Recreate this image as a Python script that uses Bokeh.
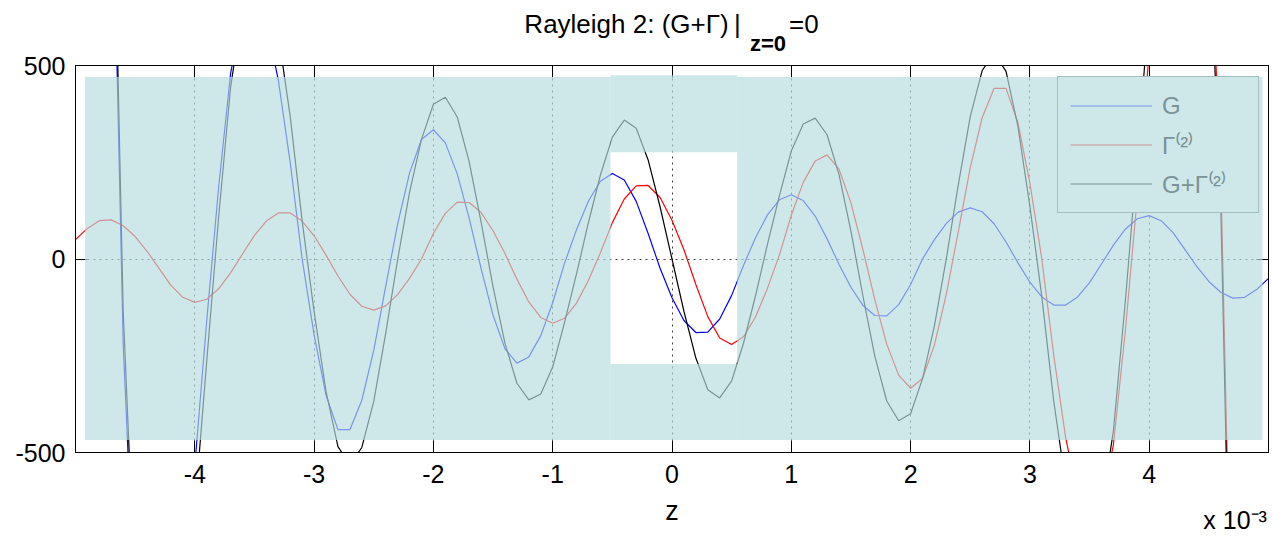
from bokeh.plotting import figure
from bokeh.models import (Range1d, FixedTicker, LinearAxis, BoxAnnotation,
                          Legend, LegendItem, ColumnDataSource)
from bokeh.core.properties import value
from bokeh.embed import file_html
from bokeh.resources import INLINE

# ---------------- data ----------------
z = [-5.0, -4.9, -4.8, -4.7, -4.6, -4.5, -4.4, -4.3, -4.2, -4.1,
     -4.0, -3.9, -3.8, -3.7, -3.6, -3.5, -3.4, -3.3, -3.2, -3.1,
     -3.0, -2.9, -2.8, -2.7, -2.6, -2.5, -2.4, -2.3, -2.2, -2.1,
     -2.0, -1.9, -1.8, -1.7, -1.6, -1.5, -1.4, -1.3, -1.2, -1.1,
     -1.0, -0.9, -0.8, -0.7, -0.6, -0.5, -0.4, -0.3, -0.2, -0.1,
     0.0,
     0.1, 0.2, 0.3, 0.4, 0.5, 0.6, 0.7, 0.8, 0.9, 1.0,
     1.1, 1.2, 1.3, 1.4, 1.5, 1.6, 1.7, 1.8, 1.9, 2.0,
     2.1, 2.2, 2.3, 2.4, 2.5, 2.6, 2.7, 2.8, 2.9, 3.0,
     3.1, 3.2, 3.3, 3.4, 3.5, 3.6, 3.7, 3.8, 3.9, 4.0,
     4.1, 4.2, 4.3, 4.4, 4.5, 4.6, 4.7, 4.8, 4.9, 5.0]

G = [2400, 2300, 1900, 1167, -222, -917, -1040, -1060, -990, -823,
     -534, -160, 186, 480, 634, 678, 612, 462, 249, 0,
     -196, -352, -441, -441, -365, -236, -71, 90, 222, 309,
     334, 300, 220, 105, -25, -145, -232, -269, -253, -198,
     -113, -10, 76, 150, 201, 221, 204, 149, 66, -24,
     -100,
     -159, -190, -189, -155, -94, -16, 55, 114, 153, 166,
     151, 111, 52, -14, -73, -120, -146, -147, -118, -66,
     0, 50, 92, 121, 132, 122, 91, 44, -10, -60,
     -98, -119, -119, -98, -61, -13, 36, 77, 104, 112,
     99, 68, 24, -20, -58, -86, -101, -99, -79, -50]

Gamma2 = [50, 79, 99, 101, 86, 58, 20, -24, -68, -99,
          -112, -104, -77, -36, 13, 61, 98, 119, 119, 98,
          60, 10, -44, -91, -122, -132, -121, -92, -50, 0,
          66, 118, 147, 146, 120, 73, 14, -52, -111, -151,
          -166, -153, -114, -55, 16, 94, 155, 189, 190, 159,
          100,
          24, -66, -149, -204, -221, -201, -150, -76, 10, 113,
          198, 253, 269, 232, 145, 25, -105, -220, -300, -334,
          -309, -222, -90, 71, 236, 365, 441, 441, 352, 196,
          0, -249, -462, -612, -678, -634, -480, -186, 160, 534,
          823, 990, 1060, 1040, 917, 222, -1167, -1900, -2300, -2400]

G_plus_Gamma2 = [2450, 2379, 1999, 1268, -136, -859, -1020, -1084, -1058, -922,
                 -646, -264, 109, 444, 647, 739, 710, 581, 368, 98,
                 -136, -342, -485, -532, -487, -368, -192, -2, 172, 309,
                 400, 418, 367, 251, 95, -72, -218, -321, -364, -349,
                 -279, -163, -38, 95, 217, 315, 359, 338, 256, 135,
                 0,
                 -135, -256, -338, -359, -315, -217, -95, 38, 163, 279,
                 349, 364, 321, 218, 72, -95, -251, -367, -418, -400,
                 -309, -172, 2, 192, 368, 487, 532, 485, 342, 136,
                 -98, -368, -581, -710, -739, -647, -444, -109, 264, 646,
                 922, 1058, 1084, 1020, 859, 136, -1268, -1999, -2379, -2450]

x_ticks = [-4, -3, -2, -1, 0, 1, 2, 3, 4]
x_tick_labels = ["-4", "-3", "-2", "-1", "0", "1", "2", "3", "4"]
y_ticks = [-500, 0, 500]
y_tick_labels = ["-500", "0", "500"]

series_labels = ["G", "\u0393\u207d\u00b2\u207e", "G+\u0393\u207d\u00b2\u207e"]
title_main = "Rayleigh 2: (G+\u0393)\u2009|"
title_sub = "z=0"
title_tail = "=0"
x_multiplier = "x 10\u207b\u00b3"

# ---------------- figure ----------------
FONT = "Liberation Sans"

src = ColumnDataSource(data=dict(zz=z, gg=G, rr=Gamma2, tt=G_plus_Gamma2))

p = figure(width=1272, height=540, x_range=Range1d(-5, 5), y_range=Range1d(-500, 500),
           output_backend="svg", toolbar_location=None,
           min_border_left=75, min_border_right=4, min_border_top=65, min_border_bottom=88,
           background_fill_color="white", border_fill_color="white")
p.title.visible = False
p.outline_line_color = "black"
p.outline_line_width = 1

xa = p.xaxis[0]
ya = p.yaxis[0]
xa.ticker = FixedTicker(ticks=x_ticks)
ya.ticker = FixedTicker(ticks=y_ticks)
xa.major_label_overrides = {t: s for t, s in zip(x_ticks, x_tick_labels)}
ya.major_label_overrides = {t: s for t, s in zip(y_ticks, y_tick_labels)}
for ax in (xa, ya):
    ax.axis_line_color = "black"
    ax.axis_line_width = 1
    ax.major_tick_line_color = "black"
    ax.major_tick_in = 12
    ax.major_tick_out = 0
    ax.minor_tick_line_color = None
    ax.major_label_text_font = FONT
    ax.major_label_text_font_size = "25px"
    ax.major_label_text_color = "black"
xa.major_label_standoff = 12
ya.major_label_standoff = 10
xa.axis_label = "z"
xa.axis_label_text_font = FONT
xa.axis_label_text_font_size = "27px"
xa.axis_label_text_font_style = "normal"
xa.axis_label_text_color = "black"
xa.axis_label_standoff = 10

# box: tick marks on top and right
for loc, ticks in (("above", x_ticks), ("right", y_ticks)):
    ax = LinearAxis(ticker=FixedTicker(ticks=ticks),
                    major_label_overrides={t: "" for t in ticks},
                    major_label_text_font_size="0px", major_label_text_color=None,
                    major_label_standoff=0, major_tick_in=12, major_tick_out=0,
                    minor_tick_line_color=None, axis_line_color="black",
                    major_tick_line_color="black")
    p.add_layout(ax, loc)


def text_axis(place, ticks, labels, size, style, standoff):
    ax = LinearAxis(ticker=FixedTicker(ticks=ticks),
                    major_label_overrides=dict(zip(ticks, labels)),
                    major_label_text_font=FONT, major_label_text_font_size=size,
                    major_label_text_font_style=style, major_label_text_color="black",
                    major_label_standoff=standoff, major_tick_in=0, major_tick_out=0,
                    major_tick_line_color=None, minor_tick_line_color=None,
                    axis_line_color=None)
    p.add_layout(ax, place)


# title: subscript row (nearer the frame) and main row
text_axis("above", [0.805], [title_sub], "22px", "bold", 10)
text_axis("above", [-0.331, 1.106], [title_main, title_tail], "26px", "normal", -11)
# x 10^-3 multiplier under the x axis, at the right
text_axis("below", [4.72], [x_multiplier], "25px", "normal", -23)

p.xgrid[0].ticker = FixedTicker(ticks=x_ticks)
p.ygrid[0].ticker = FixedTicker(ticks=y_ticks)
for g in (p.xgrid[0], p.ygrid[0]):
    g.grid_line_color = "#404040"
    g.grid_line_dash = "2 4"
    g.grid_line_width = 1

r_g = p.line("zz", "gg", source=src, line_color="#0000FF", line_width=1.2)
r_r = p.line("zz", "rr", source=src, line_color="#FF0000", line_width=1.2)
r_t = p.line("zz", "tt", source=src, line_color="#000000", line_width=1.2)

# legend sits under the translucent veil: legend-only proxies in the veiled colours
nan = float("nan")
proxy = ColumnDataSource(data=dict(zz=[nan], gg=[nan]))
l_g = p.line("zz", "gg", source=proxy, line_color="#7A93EA", line_width=1.2)
l_r = p.line("zz", "gg", source=proxy, line_color="#CE9396", line_width=1.2)
l_t = p.line("zz", "gg", source=proxy, line_color="#7A9396", line_width=1.2)

legend = Legend(items=[LegendItem(label=value(series_labels[0]), renderers=[l_g]),
                       LegendItem(label=value(series_labels[1]), renderers=[l_r]),
                       LegendItem(label=value(series_labels[2]), renderers=[l_t])],
                location=(982, 239), margin=0, padding=12, spacing=6,
                glyph_width=82, glyph_height=33, label_height=33, label_width=84,
                label_standoff=10, label_text_font=FONT, label_text_font_size="24px",
                label_text_color="#7A9396", border_line_color="#7A9396", border_line_width=1,
                background_fill_color="#CEE8EA", background_fill_alpha=1.0)
p.add_layout(legend)

# translucent cyan veil with a clear window in the middle
OV = dict(fill_color="#B6DCE0", fill_alpha=0.67, line_color=None, level="overlay")
for (l, r, b, t) in [(-4.92, -0.515, -468, 470), (0.546, 4.95, -468, 470),
                     (-0.515, 0.546, 276, 475), (-0.515, 0.546, -468, -271)]:
    p.add_layout(BoxAnnotation(left=l, right=r, bottom=b, top=t, **OV))

open("out.html", "w").write(file_html(p, INLINE))
